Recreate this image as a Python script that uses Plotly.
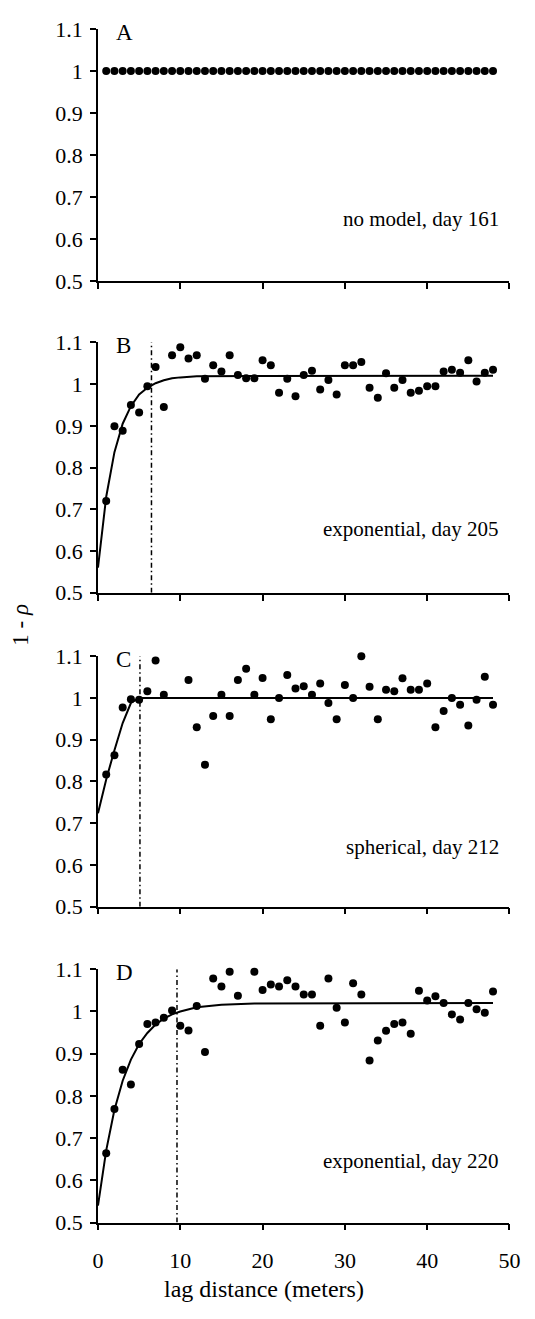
import plotly.graph_objects as go

# ---- data: sample semivariance (1 - rho) by lag distance, four survey days ----
lag_A = [1, 2, 3, 4, 5, 6, 7, 8, 9, 10, 11, 12, 13, 14, 15, 16, 17, 18, 19, 20, 21, 22, 23, 24,
         25, 26, 27, 28, 29, 30, 31, 32, 33, 34, 35, 36, 37, 38, 39, 40, 41, 42, 43, 44, 45, 46, 47, 48]
val_A = [1.0, 1.0, 1.0, 1.0, 1.0, 1.0, 1.0, 1.0, 1.0, 1.0, 1.0, 1.0, 1.0, 1.0, 1.0, 1.0,
         1.0, 1.0, 1.0, 1.0, 1.0, 1.0, 1.0, 1.0, 1.0, 1.0, 1.0, 1.0, 1.0, 1.0, 1.0, 1.0,
         1.0, 1.0, 1.0, 1.0, 1.0, 1.0, 1.0, 1.0, 1.0, 1.0, 1.0, 1.0, 1.0, 1.0, 1.0, 1.0]

lag_B = [1, 2, 3, 4, 5, 6, 7, 8, 9, 10, 11, 12, 13, 14, 15, 16, 17, 18, 19, 20, 21, 22, 23, 24,
         25, 26, 27, 28, 29, 30, 31, 32, 33, 34, 35, 36, 37, 38, 39, 40, 41, 42, 43, 44, 45, 46, 47, 48]
val_B = [0.720, 0.899, 0.888, 0.950, 0.932, 0.995, 1.041, 0.945, 1.069, 1.088, 1.061, 1.069,
         1.013, 1.045, 1.030, 1.069, 1.022, 1.014, 1.014, 1.057, 1.045, 0.979, 1.013, 0.971,
         1.022, 1.032, 0.987, 1.010, 0.975, 1.045, 1.045, 1.053, 0.991, 0.967, 1.026, 0.991,
         1.010, 0.979, 0.984, 0.995, 0.995, 1.030, 1.034, 1.027, 1.057, 1.006, 1.027, 1.034]

lag_C = [1, 2, 3, 4, 5, 6, 7, 8, 11, 12, 13, 14, 15, 16, 17, 18, 19, 20, 21, 22, 23, 24, 25,
         26, 27, 28, 29, 30, 31, 32, 33, 34, 35, 36, 37, 38, 39, 40, 41, 42, 43, 44, 45, 46, 47, 48]
val_C = [0.817, 0.863, 0.977, 0.997, 0.996, 1.016, 1.090, 1.008, 1.043, 0.930, 0.840, 0.957,
         1.008, 0.957, 1.043, 1.070, 1.008, 1.048, 0.949, 1.000, 1.055, 1.023, 1.028, 1.008,
         1.035, 0.988, 0.949, 1.031, 1.000, 1.100, 1.027, 0.949, 1.020, 1.016, 1.047, 1.020,
         1.020, 1.035, 0.930, 0.969, 1.000, 0.984, 0.934, 0.996, 1.051, 0.984]

lag_D = [1, 2, 3, 4, 5, 6, 7, 8, 9, 10, 11, 12, 13, 14, 15, 16, 17, 19, 20, 21, 22, 23, 24,
         25, 26, 27, 28, 29, 30, 31, 32, 33, 34, 35, 36, 37, 38, 39, 40, 41, 42, 43, 44, 45, 46, 47, 48]
val_D = [0.664, 0.769, 0.862, 0.827, 0.923, 0.970, 0.974, 0.985, 1.002, 0.966, 0.955, 1.013,
         0.904, 1.078, 1.059, 1.094, 1.037, 1.094, 1.051, 1.064, 1.059, 1.074, 1.059, 1.040,
         1.040, 0.966, 1.078, 1.009, 0.974, 1.067, 1.040, 0.884, 0.931, 0.954, 0.970, 0.974,
         0.947, 1.049, 1.026, 1.036, 1.020, 0.993, 0.981, 1.020, 1.005, 0.997, 1.047]

# fitted variogram models (vertices of the drawn model curves)
model_B_x = [0, 1, 2, 3, 4, 5, 6, 7, 8, 9, 10, 12, 48]
model_B_y = [0.560, 0.730, 0.837, 0.905, 0.947, 0.975, 0.991, 1.002, 1.009, 1.014, 1.016, 1.019, 1.020]
model_C_x = [0, 1, 2, 3, 4, 5, 48]
model_C_y = [0.724, 0.805, 0.875, 0.940, 0.988, 1.000, 1.000]
model_D_x = [0, 1, 2, 3, 4, 5, 6, 7, 8, 9, 10, 12, 15, 19, 48]
model_D_y = [0.540, 0.671, 0.767, 0.836, 0.886, 0.923, 0.949, 0.969, 0.983, 0.993, 1.000,
             1.010, 1.016, 1.019, 1.020]

# model ranges (dash-dot markers)
range_B = 6.5
range_C = 5.1
range_D = 9.6

panel_letters = ["A", "B", "C", "D"]
panel_notes = ["no model, day 161", "exponential, day 205", "spherical, day 212", "exponential, day 220"]

y_ticks = [0.5, 0.6, 0.7, 0.8, 0.9, 1.0, 1.1]
y_tick_text = ["0.5", "0.6", "0.7", "0.8", "0.9", "1", "1.1"]
x_ticks = [0, 10, 20, 30, 40, 50]
x_tick_text = ["0", "10", "20", "30", "40", "50"]

FONT = "Liberation Serif"
H = 1319
W = 535

# panel placement in pixels (top, bottom) and the common x extent
panel_px = [(17.5, 274.0), (336.7, 592.0), (656.7, 912.0), (975.7, 1234.0)]
x_px = (95.0, 520.0)

fig = go.Figure()

panels = [
    (lag_A, val_A, None, None, None),
    (lag_B, val_B, model_B_x, model_B_y, range_B),
    (lag_C, val_C, model_C_x, model_C_y, range_C),
    (lag_D, val_D, model_D_x, model_D_y, range_D),
]

note_y = [0.648, 0.652, 0.642, 0.645]

for i, (lx, ly, mx, my, rng) in enumerate(panels):
    n = i + 1
    xa = "x" if n == 1 else f"x{n}"
    ya = "y" if n == 1 else f"y{n}"

    if mx is not None:
        fig.add_trace(go.Scatter(x=mx, y=my, xaxis=xa, yaxis=ya, mode="lines",
                                 line=dict(color="black", width=2), hoverinfo="skip"))
        fig.add_trace(go.Scatter(x=[rng, rng], y=[0.5, 1.1], xaxis=xa, yaxis=ya, mode="lines",
                                 line=dict(color="black", width=1.5, dash="5px,3px,1.5px,3px"),
                                 hoverinfo="skip"))

    fig.add_trace(go.Scatter(x=lx, y=ly, xaxis=xa, yaxis=ya, mode="markers",
                             marker=dict(color="black", size=8), cliponaxis=False))

    top, bot = panel_px[i]
    dom_y = [1 - bot / H, 1 - top / H]
    dom_x = [x_px[0] / W, x_px[1] / W]

    axis_common = dict(showline=True, linecolor="black", linewidth=1.5, ticks="outside",
                       ticklen=6, tickwidth=1.5, tickcolor="black", showgrid=False,
                       zeroline=False, tickfont=dict(family=FONT, size=22, color="black"))

    fig.layout[f"xaxis{'' if n == 1 else n}"] = go.layout.XAxis(
        domain=dom_x, range=[0, 50], anchor=ya, tickvals=x_ticks, ticktext=x_tick_text,
        showticklabels=(n == 4), fixedrange=True, ticklabelstandoff=11, **axis_common)
    fig.layout[f"yaxis{'' if n == 1 else n}"] = go.layout.YAxis(
        domain=dom_y, range=[0.5, 1.1], anchor=xa, tickvals=y_ticks, ticktext=y_tick_text,
        fixedrange=True, ticklabelstandoff=3, **axis_common)

    fig.add_annotation(x=2.0, y=1.093, xref=xa, yref=ya, text=panel_letters[i],
                       showarrow=False, xanchor="left", yanchor="middle",
                       font=dict(family=FONT, size=23, color="black"))
    fig.add_annotation(x=49.0, y=note_y[i], xref=xa, yref=ya, text=panel_notes[i],
                       showarrow=False, xanchor="right", yanchor="middle",
                       font=dict(family=FONT, size=21, color="black"))

# shared axis titles
fig.add_annotation(x=20.2, y=1 - 1302 / H, xref="x4", yref="paper",
                   text="lag distance (meters)", showarrow=False,
                   xanchor="center", yanchor="middle",
                   font=dict(family=FONT, size=24, color="black"))
fig.add_annotation(x=15 / W, y=1 - 625 / H, xref="paper", yref="paper",
                   text="1 - <i>ρ</i>", textangle=-90, showarrow=False,
                   xanchor="center", yanchor="middle",
                   font=dict(family=FONT, size=23, color="black"))

fig.update_layout(width=W, height=H, margin=dict(l=0, r=0, t=0, b=0),
                  plot_bgcolor="white", paper_bgcolor="white", showlegend=False,
                  font=dict(family=FONT, color="black"))

fig.write_html("out.html")
